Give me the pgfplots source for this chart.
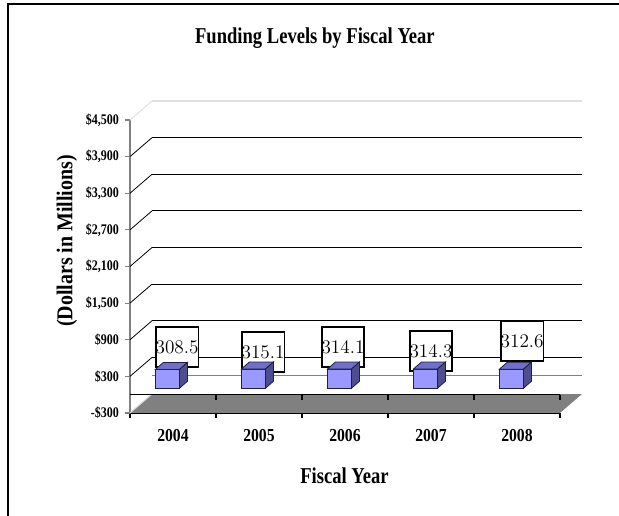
\documentclass[border=0pt]{standalone}
\usepackage{fontspec}
\setmainfont{Liberation Serif}[FakeStretch=0.82]
\newfontfamily\ylabfont{Liberation Serif}[FakeStretch=0.88]
\newfontfamily\yearfont{Liberation Serif}[FakeStretch=0.86]
\newfontfamily\lblfont{Liberation Serif}[FakeStretch=0.7]
\usepackage{pgfplots}
\usepackage{pgfplotstable}
\pgfplotsset{compat=1.18}
\usetikzlibrary{calc}

\definecolor{barfront}{HTML}{9999FF}
\definecolor{bartop}{HTML}{7070C8}
\definecolor{barside}{HTML}{4D4D8F}
\definecolor{barline}{HTML}{1F1F3F}
\definecolor{floorgray}{HTML}{808080}

% x = category centre, v = funding, lx/ly = where the value box sits
\pgfplotstableread{
x   v     lx    ly
0.5 308.5 0.547 781
1.5 315.1 1.547 699
2.5 314.1 2.477 781
3.5 314.3 3.500 716
4.5 312.6 4.560 880
}\funding

\pgfdeclareplotmark{empty}{}

\begin{document}
\begin{tikzpicture}
\path[use as bounding box] (-97.5pt,-77.25pt) rectangle (366.75pt,309.75pt);
\draw[line width=1.1pt] (-91.5pt,-77.25pt) -- (-91.5pt,306.75pt) -- (366.75pt,306.75pt);
\begin{axis}[
    at={(0pt,0pt)}, anchor=south west,
    scale only axis,
    width=322.5pt, height=219.75pt,
    xmin=0, xmax=5,
    ymin=-300, ymax=4500,
    clip=false,
    axis x line*=bottom, axis y line*=left,
    x axis line style={-, black, line width=0.8pt},
    y axis line style={-, floorgray, line width=0.8pt},
    tick align=outside,
    xtick={0.5,1.5,2.5,3.5,4.5},
    xticklabels={2004,2005,2006,2007,2008},
    major x tick style={draw=none},
    minor xtick={0,1,2,3,4,5},
    minor x tick style={black, line width=0.8pt},
    minor tick length=3.75pt,
    ytick={-300,300,900,1500,2100,2700,3300,3900,4500},
    yticklabels={{-\$300},{\$300},{\$900},{\$1,500},{\$2,100},{\$2,700},{\$3,300},{\$3,900},{\$4,500}},
    y tick style={floorgray, line width=0.8pt},
    major tick length=3.75pt,
    yticklabel style={font=\bfseries\fontsize{11}{12}\selectfont, xshift=-1pt},
    xticklabel style={font=\yearfont\bfseries\fontsize{13.7}{15}\selectfont, yshift=-5pt},
    every axis title shift=0pt,
    title={Funding Levels by Fiscal Year},
    title style={at={(0.430,1.280)}, anchor=center, font=\bfseries\fontsize{17}{19}\selectfont},
    xlabel={Fiscal Year},
    x label style={at={(axis description cs:0.4988,-0.215)}, anchor=center, font=\bfseries\fontsize{17}{19}\selectfont},
    ylabel={(Dollars in Millions)},
    y label style={at={(axis description cs:-0.1465,0.587)}, anchor=center, font=\ylabfont\bfseries\fontsize{17}{19}\selectfont},
]
% floor
\fill[floorgray] (axis cs:0,-300) -- (axis cs:5,-300) -- (axis cs:5.256,11) -- (axis cs:0.256,11) -- cycle;
% back wall gridlines and side wall diagonals
\draw[black!12, line width=0.8pt] (axis cs:0.256,4811) -- (axis cs:5.256,4811);
\draw[black!12, line width=0.8pt] (axis cs:0,4500) -- (axis cs:0.256,4811);
\draw[black, line width=0.75pt] (axis cs:0.256,4211) -- (axis cs:5.256,4211);
\draw[black, line width=0.75pt] (axis cs:0.256,3611) -- (axis cs:5.256,3611);
\draw[black, line width=0.75pt] (axis cs:0.256,3011) -- (axis cs:5.256,3011);
\draw[black, line width=0.75pt] (axis cs:0.256,2411) -- (axis cs:5.256,2411);
\draw[black, line width=0.75pt] (axis cs:0.256,1811) -- (axis cs:5.256,1811);
\draw[black, line width=0.75pt] (axis cs:0.256,1211) -- (axis cs:5.256,1211);
\draw[black, line width=0.75pt] (axis cs:0.256,611) -- (axis cs:5.256,611);
\draw[floorgray, line width=1pt] (axis cs:0.256,311) -- (axis cs:5.256,311);
\draw[black, line width=0.6pt] (axis cs:0,3900) -- (axis cs:0.256,4211);
\draw[black, line width=0.6pt] (axis cs:0,3300) -- (axis cs:0.256,3611);
\draw[black, line width=0.6pt] (axis cs:0,2700) -- (axis cs:0.256,3011);
\draw[black, line width=0.6pt] (axis cs:0,2100) -- (axis cs:0.256,2411);
\draw[black, line width=0.6pt] (axis cs:0,1500) -- (axis cs:0.256,1811);
\draw[black, line width=0.6pt] (axis cs:0,900) -- (axis cs:0.256,1211);
\draw[black, line width=0.6pt] (axis cs:0,300) -- (axis cs:0.256,611);
\draw[black!15, line width=0.8pt] (axis cs:0,-300) -- (axis cs:0.256,11);
% front zero line with its ticks
\draw[black, line width=0.8pt] (axis cs:0,0) -- (axis cs:5,0);
\draw[black, line width=0.8pt] (axis cs:1,0) -- ++(0pt,-3.75pt);
\draw[black, line width=0.8pt] (axis cs:2,0) -- ++(0pt,-3.75pt);
\draw[black, line width=0.8pt] (axis cs:3,0) -- ++(0pt,-3.75pt);
\draw[black, line width=0.8pt] (axis cs:4,0) -- ++(0pt,-3.75pt);
\draw[black, line width=0.8pt] (axis cs:5,0) -- ++(0pt,-3.75pt);

% value boxes
\addplot[draw=none, point meta=explicit,
    nodes near coords={\raisebox{-1.5pt}{\pgfmathprintnumber[fixed,fixed zerofill,precision=1]{\pgfplotspointmeta}}},
    every node near coord/.append style={anchor=center, draw=black, line width=1.4pt,
        fill=white, text=black, minimum width=28.5pt, minimum height=30pt, inner sep=0pt,
        font=\lblfont\fontsize{14.5}{16}\selectfont},
] table[x=lx, y=ly, meta=v] \funding;

% 3-D bars
\addplot[scatter, only marks, mark=empty,
    visualization depends on={rawy \as \val},
    scatter/@pre marker code/.code={%
        \coordinate (h) at (axis direction cs:0,\val);
        \coordinate (d) at (axis direction cs:0.093,115);
        \coordinate (A) at (axis direction cs:-0.205,105);
        \coordinate (B) at (axis direction cs:0.075,105);
        \coordinate (C) at ($(B)-(h)$);
        \coordinate (D) at ($(A)-(h)$);
        \filldraw[fill=barfront, draw=barline, line width=0.6pt] (A) -- (B) -- (C) -- (D) -- cycle;
        \filldraw[fill=bartop, draw=barline, line width=0.6pt] (A) -- (B) -- ($(B)+(d)$) -- ($(A)+(d)$) -- cycle;
        \filldraw[fill=barside, draw=barline, line width=0.6pt] (B) -- (C) -- ($(C)+(d)$) -- ($(B)+(d)$) -- cycle;
    },
    scatter/@post marker code/.code={},
] table[x=x, y=v] \funding;
\end{axis}
\end{tikzpicture}
\end{document}
